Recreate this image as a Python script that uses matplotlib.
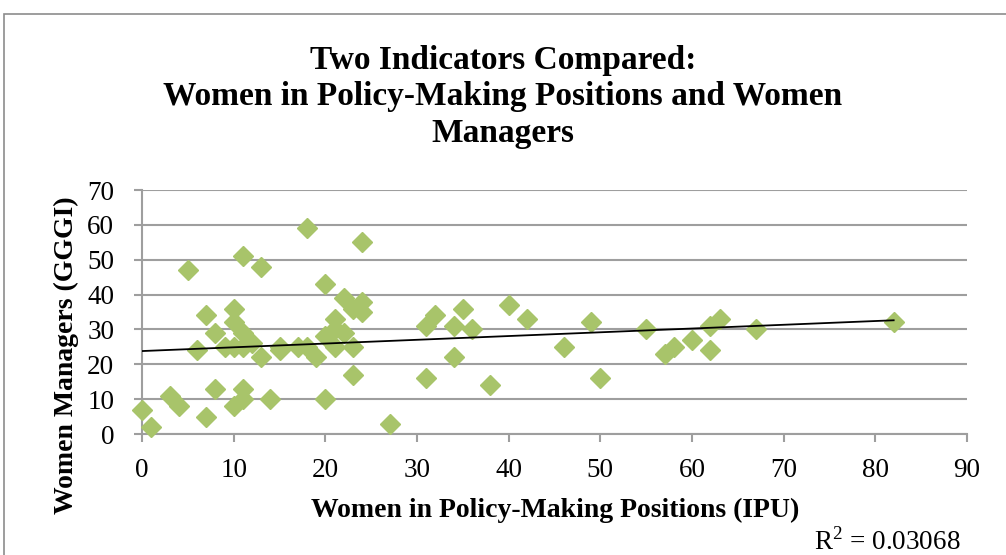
import numpy as np
import matplotlib
matplotlib.use("Agg")
import matplotlib.pyplot as plt
from matplotlib.patches import Rectangle

# Women in policy-making positions (IPU) vs women managers (GGGI)
ipu = [0, 1, 3, 4, 5, 6, 7, 7, 8, 8, 9, 10, 10, 10, 10, 11, 11, 11, 11, 11,
       12, 13, 13, 14, 15, 15, 17, 18, 18, 19, 20, 20, 20, 21, 21, 21, 22, 22,
       23, 23, 23, 24, 24, 24, 27, 31, 31, 32, 34, 34, 35, 36, 38, 40, 42, 46,
       49, 50, 55, 57, 58, 60, 62, 62, 63, 67, 82]
gggi = [7, 2, 11, 8, 47, 24, 34, 5, 29, 13, 25, 36, 32, 25, 8, 51, 29, 25, 13, 10,
        26, 48, 22, 10, 25, 24, 25, 59, 25, 22, 43, 28, 10, 33, 30, 25, 39, 29,
        36, 25, 17, 55, 38, 35, 3, 31, 16, 34, 31, 22, 36, 30, 14, 37, 33, 25,
        32, 16, 30, 23, 25, 27, 31, 24, 33, 30, 32]

r2_label = "R$^2$ = 0.03068"
title = ("Two Indicators Compared:\n"
         "Women in Policy-Making Positions and Women\n"
         "Managers")

plt.rcParams.update({
    "font.family": ["Liberation Serif", "DejaVu Serif"],
    "mathtext.fontset": "custom",
    "mathtext.rm": "Liberation Serif",
})

GREEN = "#a8c46a"
GRID = "#9e9e9e"

fig = plt.figure(figsize=(10.06, 5.55), dpi=100)
fig.patch.set_facecolor("white")

# outer chart frame (Excel style), runs off the right/bottom edge
fig.patches.append(Rectangle((4 / 1006, -0.1), 1.1, 1.1 - 14 / 555,
                             transform=fig.transFigure, fill=False,
                             edgecolor="#8c8c8c", lw=1.2))

ax = fig.add_axes([142 / 1006, 1 - 434 / 555, 825 / 1006, 244 / 555])

x = np.array(ipu, dtype=float)
y = np.array(gggi, dtype=float)
ax.plot(x, y, ls="none", marker="D", ms=10.5, color=GREEN, mec=GREEN,
        zorder=3, clip_on=False)

# linear trendline
slope, icpt = np.polyfit(x, y, 1)
xs = np.array([x.min(), x.max()])
ax.plot(xs, icpt + slope * xs, color="black", lw=1.3, zorder=4)

ax.set_xlim(0, 90)
ax.set_ylim(0, 70)
ax.set_xticks(range(0, 91, 10))
ax.set_yticks(range(0, 71, 10))
ax.grid(axis="y", color=GRID, lw=1.5)
ax.set_axisbelow(True)
for s in ["top", "right"]:
    ax.spines[s].set_visible(False)
for s in ["left", "bottom"]:
    ax.spines[s].set_color(GRID)
    ax.spines[s].set_linewidth(1.5)
ax.tick_params(axis="x", direction="out", length=6, width=1.5, color=GRID,
               labelsize=19.5, pad=11)
ax.tick_params(axis="y", direction="out", length=6, width=1.5, color=GRID,
               labelsize=19.5, pad=14)

fig.text(555 / 1006, 1 - 510 / 555, "Women in Policy-Making Positions (IPU)",
         ha="center", va="center", fontsize=20, fontweight="bold")
fig.text(66 / 1006, 1 - 355 / 555, "Women Managers (GGGI)", rotation=90,
         ha="center", va="center", fontsize=20, fontweight="bold")

fig.text(0.5, 1 - 97 / 555, title, ha="center", va="center", fontsize=24,
         fontweight="bold", linespacing=1.22)
fig.text(961 / 1006, 1 - 542 / 555, r2_label, ha="right", va="center",
         fontsize=19.5)

fig.savefig("out.png", dpi=100, facecolor="white")
